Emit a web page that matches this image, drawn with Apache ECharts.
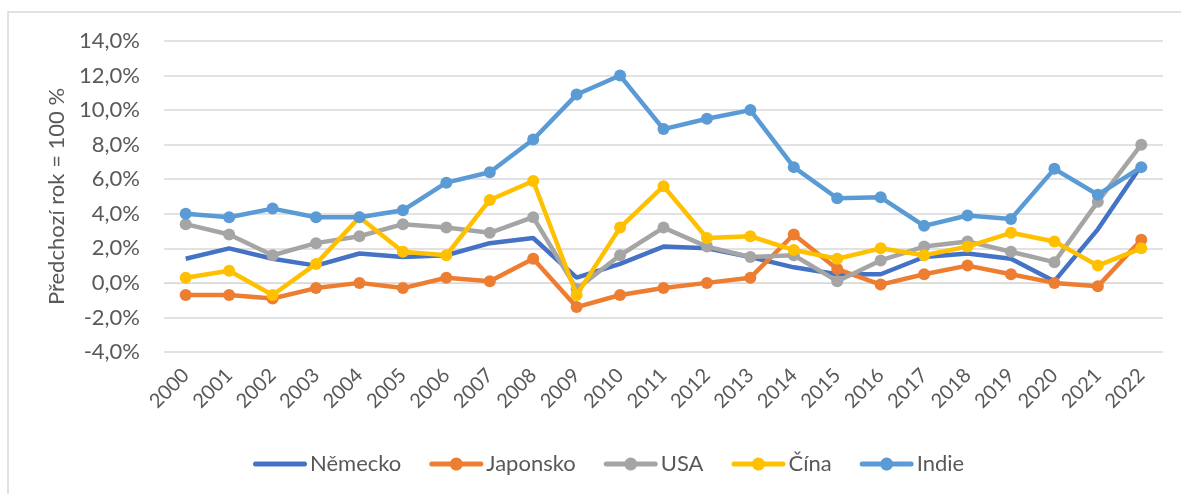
<!DOCTYPE html>
<html>
<head>
<meta charset="utf-8">
<script src="https://cdn.jsdelivr.net/npm/echarts@6/dist/echarts.min.js"></script>
<style>
  html, body { margin: 0; padding: 0; background: #fff; }
  #chart { width: 1181px; height: 494px; }
</style>
</head>
<body>
<div id="chart"></div>
<script>
var years = ["2000","2001","2002","2003","2004","2005","2006","2007","2008","2009","2010","2011",
  "2012","2013","2014","2015","2016","2017","2018","2019","2020","2021","2022"];

var nemecko = [1.4, 2.0, 1.4, 1.0, 1.7, 1.5, 1.6, 2.3, 2.6, 0.3, 1.1, 2.1, 2.0, 1.5, 0.9, 0.5, 0.5, 1.5, 1.7, 1.4, 0.1, 3.1, 6.8];
var japonsko = [-0.7, -0.7, -0.9, -0.3, 0.0, -0.3, 0.3, 0.1, 1.4, -1.4, -0.7, -0.3, 0.0, 0.3, 2.8, 0.8, -0.1, 0.5, 1.0, 0.5, 0.0, -0.2, 2.5];
var usa = [3.4, 2.8, 1.6, 2.3, 2.7, 3.4, 3.2, 2.9, 3.8, -0.35, 1.6, 3.2, 2.1, 1.5, 1.6, 0.1, 1.3, 2.1, 2.4, 1.8, 1.2, 4.7, 8.0];
var cina = [0.3, 0.7, -0.7, 1.1, 3.8, 1.8, 1.6, 4.8, 5.9, -0.7, 3.2, 5.6, 2.6, 2.7, 1.9, 1.4, 2.0, 1.6, 2.1, 2.9, 2.4, 1.0, 2.0];
var indie = [4.0, 3.8, 4.3, 3.8, 3.8, 4.2, 5.8, 6.4, 8.3, 10.9, 12.0, 8.9, 9.5, 10.0, 6.7, 4.9, 4.95, 3.3, 3.9, 3.7, 6.6, 5.1, 6.7];

var names = ["Německo", "Japonsko", "USA", "Čína", "Indie"];
var colors = ["#4472C4", "#ED7D31", "#A5A5A5", "#FFC000", "#5B9BD5"];
var values = [nemecko, japonsko, usa, cina, indie];

var font = "Lato, 'Noto Sans', sans-serif";
var chart = echarts.init(document.getElementById("chart"));

// legend icons: plain bar for Německo, bar with dot for the rest
var barIcon = "path://M2.5,4 L51.5,4 A2.5,2.5 0 0 1 51.5,9 L2.5,9 A2.5,2.5 0 0 1 2.5,4 Z";
var dotIcon = "path://M2.5,4 L21,4 A6.5,6.5 0 0 1 33,4 L51.5,4 A2.5,2.5 0 0 1 51.5,9 L33,9 A6.5,6.5 0 0 1 21,9 L2.5,9 A2.5,2.5 0 0 1 2.5,4 Z";

var series = names.map(function (n, i) {
  return {
    name: n,
    type: "line",
    data: values[i],
    symbol: i === 0 ? "none" : "circle",
    symbolSize: 12,
    showSymbol: i !== 0,
    lineStyle: { width: 4.5, color: colors[i] },
    itemStyle: { color: colors[i] },
    emphasis: { disabled: true },
    z: 2 + i
  };
});

var legendData = names.map(function (n, i) {
  return { name: n, icon: i === 0 ? barIcon : dotIcon };
});

var option = {
  animation: false,
  color: colors,
  graphic: [{
    type: "rect",
    shape: { x: 8, y: 12, width: 1200, height: 520 },
    style: { fill: "none", stroke: "#D9D9D9", lineWidth: 1.5 },
    z: -1
  }],
  grid: { left: 164, right: 18, top: 41, bottom: 142, containLabel: false },
  legend: {
    top: 448,
    left: 248,
    itemWidth: 54,
    itemHeight: 13,
    itemGap: 28,
    textStyle: { color: "#595959", fontSize: 22, fontFamily: font, padding: [0, 0, 0, -2] },
    data: legendData
  },
  xAxis: {
    type: "category",
    data: years,
    boundaryGap: true,
    axisLine: { lineStyle: { color: "#D9D9D9", width: 1 } },
    axisTick: { show: false },
    axisLabel: { rotate: 45, color: "#595959", fontSize: 20, fontFamily: font, margin: 20, interval: 0 }
  },
  yAxis: {
    type: "value",
    min: -4,
    max: 14,
    interval: 2,
    name: "Předchozí rok = 100 %",
    nameLocation: "middle",
    nameGap: 96,
    nameTextStyle: { color: "#595959", fontSize: 22, fontFamily: font },
    axisLine: { show: false },
    axisTick: { show: false },
    splitLine: { lineStyle: { color: "#D9D9D9", width: 1.5 } },
    axisLabel: {
      color: "#595959", fontSize: 22, fontFamily: font, margin: 24,
      formatter: function (v) { return v.toFixed(1).replace(".", ",") + "%"; }
    }
  },
  series: series
};

chart.setOption(option);
window.addEventListener("resize", function () { chart.resize(); });
</script>
</body>
</html>
